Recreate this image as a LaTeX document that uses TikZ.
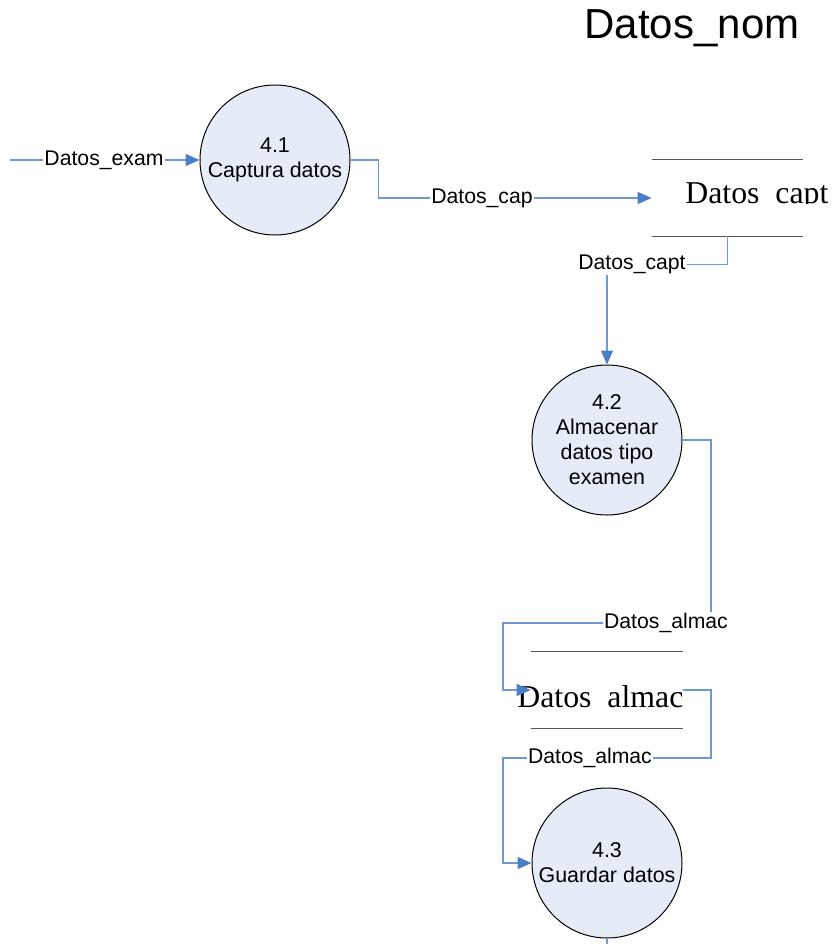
\documentclass[tikz,border=0pt]{standalone}
\usepackage{fontspec}
\setmainfont{Liberation Sans}
\newfontfamily\storefont{Liberation Serif}
\usetikzlibrary{arrows.meta}

\definecolor{procfill}{HTML}{E6ECF7}
\definecolor{flowline}{HTML}{6F98D3}
\definecolor{flowtip}{HTML}{4A7EC7}
\definecolor{storeline}{HTML}{555555}

\tikzset{
  proc/.style={circle, draw=black, line width=0.5pt, fill=procfill,
    minimum size=75pt, inner sep=0pt, align=center,
    font=\fontsize{10.7}{12.5}\selectfont},
  flow/.style={draw=flowline, line width=0.65pt,
    -{Triangle[length=7pt,width=6pt,fill=flowtip,color=flowtip]}},
  plainflow/.style={draw=flowline, line width=0.65pt},
  lbl/.style={fill=white, inner sep=0.6pt, font=\fontsize{10.6}{12}\selectfont},
  storebox/.style={draw=none, minimum width=#1, minimum height=38pt, inner sep=0pt},
  storeedge/.style={draw=storeline, line width=0.7pt},
  storelbl/.style={inner sep=0pt, anchor=base west,
    font=\storefont\fontsize{15.9}{18}\selectfont},
  title/.style={font=\fontsize{21}{25}\selectfont, inner sep=0pt}
}

\begin{document}
\begin{tikzpicture}[x=0.5pt, y=-0.5pt]
  \useasboundingbox (0,0) rectangle (834,944);

  % title
  \node[title] (ttl) at (692,28) {Datos\_nom};

  % processes
  \node[proc] (c41) at (275,160) {4.1\\Captura datos};
  \node[proc] (c42) at (607,440) {4.2\\Almacenar\\datos tipo\\examen};
  \node[proc] (c43) at (607,863) {4.3\\Guardar datos};

  % data stores (frame only; text set separately)
  \node[storebox=75.5pt] (s1) at (727.5,198) {};
  \draw[storeedge] (s1.north west) -- (s1.north east);
  \draw[storeedge] (s1.south west) -- (s1.south east);
  \begin{scope}
    \clip (640,150) rectangle (834,203.5);
    \node[storelbl] (s1t) at (685,203) {Datos\hspace{0.5em}capt};
  \end{scope}

  \node[storebox=76pt] (s2) at (607,690) {};
  \draw[storeedge] (s2.north west) -- (s2.north east);
  \draw[storeedge] (s2.south west) -- (s2.south east);
  \node[storelbl] (s2t) at (517,707) {Datos\hspace{0.5em}almac};

  % free ends and bends
  \coordinate (src) at (10,160);
  \coordinate (sink) at (607,950);
  \coordinate (b1) at (711,623);
  \coordinate (b2) at (503,690);
  \coordinate (b3) at (711,758);
  \coordinate (b4) at (503,863);

  % flows
  \draw[flow] (src) -- (c41.west);
  \node[lbl] at (104,160) {Datos\_exam};

  \draw[flow] (c41.east) -- ++(28,0) |- (s1.west);
  \node[lbl] at (482,198) {Datos\_cap};

  \draw[flow] (s1.south) -- ++(0,28) -| (c42.north);
  \node[lbl] at (632,264) {Datos\_capt};

  \draw[flow] (c42.east) -| (b1) -| (b2) -- (s2.west);
  \node[lbl] at (666,623) {Datos\_almac};

  \draw[flow] (s2.east) -| (b3) -| (b4) -- (c43.west);
  \node[lbl] at (590,758) {Datos\_almac};

  \draw[plainflow] (c43.south) -- (sink);
\end{tikzpicture}
\end{document}
